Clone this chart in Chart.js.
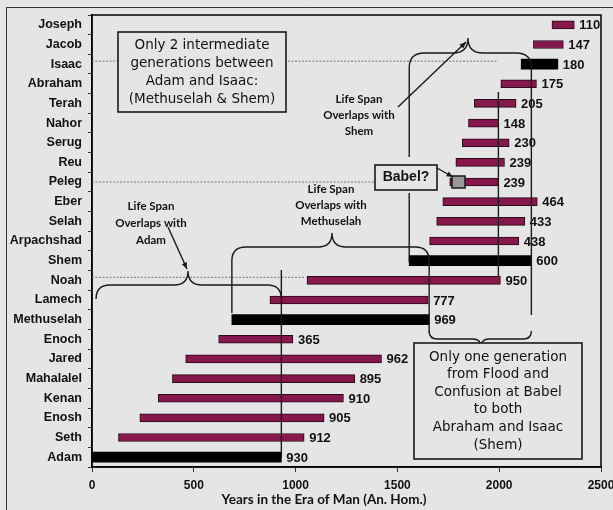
<!DOCTYPE html>
<html>
<head>
<meta charset="utf-8">
<script src="https://cdn.jsdelivr.net/npm/chart.js@4.4.1/dist/chart.umd.min.js"></script>
<style>
  html, body { margin: 0; padding: 0; background: #e5e5e5; }
  #wrap { width: 613px; height: 510px; }
</style>
</head>
<body>
<div id="wrap"><canvas id="myChart" width="613" height="510"></canvas></div>
<script>
// patriarchs, oldest first (drawn bottom to top)
const names = ['Adam', 'Seth', 'Enosh', 'Kenan', 'Mahalalel', 'Jared', 'Enoch', 'Methuselah', 'Lamech', 'Noah',
  'Shem', 'Arpachshad', 'Selah', 'Eber', 'Peleg', 'Reu', 'Serug', 'Nahor', 'Terah', 'Abraham', 'Isaac', 'Jacob', 'Joseph'];
// year of birth (An. Hom.)
const born = [0, 130, 235, 325, 395, 460, 622, 687, 874, 1056,
  1558, 1658, 1693, 1723, 1757, 1787, 1819, 1849, 1878, 2008, 2108, 2168, 2259];
// life span in years (also the bar labels)
const lifeSpan = [930, 912, 905, 910, 895, 962, 365, 969, 777, 950,
  600, 438, 433, 464, 239, 239, 230, 148, 205, 175, 180, 147, 110];
// the black bars
const keyPeople = ['Adam', 'Methuselah', 'Shem', 'Isaac'];
const xTicks = [0, 500, 1000, 1500, 2000, 2500];
const xTitle = 'Years in the Era of Man (An. Hom.)';

const BG = '#e5e5e5';
const MAROON = '#86184d';

const spanData = names.map((n, i) => keyPeople.includes(n) ? null : [born[i], born[i] + lifeSpan[i]]);
const keyData = names.map((n, i) => keyPeople.includes(n) ? [born[i], born[i] + lifeSpan[i]] : null);

// light grey page with a thin frame on the left and top
const backdrop = {
  id: 'backdrop',
  beforeDraw(chart) {
    const ctx = chart.ctx;
    ctx.save();
    ctx.fillStyle = BG;
    ctx.fillRect(0, 0, chart.width, chart.height);
    ctx.strokeStyle = '#333';
    ctx.lineWidth = 1;
    ctx.beginPath();
    ctx.moveTo(6.5, chart.height);
    ctx.lineTo(6.5, 7.5);
    ctx.lineTo(chart.width, 7.5);
    ctx.stroke();
    ctx.restore();
  }
};

// life span numbers at the end of each bar
const spanLabels = {
  id: 'spanLabels',
  afterDatasetsDraw(chart) {
    const ctx = chart.ctx, xs = chart.scales.x, ys = chart.scales.y;
    ctx.save();
    ctx.font = 'bold 13px "Liberation Sans", Arial, sans-serif';
    ctx.fillStyle = '#111';
    ctx.textBaseline = 'middle';
    ctx.textAlign = 'left';
    names.forEach((n, i) => {
      const x = xs.getPixelForValue(born[i] + lifeSpan[i]) + 5;
      ctx.fillText(String(lifeSpan[i]), x, ys.getPixelForValue(i) + 1);
    });
    ctx.restore();
  }
};

function brace(ctx, x1, x2, y, xm, tipY) {
  const d = Math.sign(y - tipY);
  const r = Math.abs(y - tipY);
  ctx.beginPath();
  ctx.moveTo(x1, y + d * r);
  ctx.quadraticCurveTo(x1, y, x1 + r, y);
  ctx.lineTo(xm - r, y);
  ctx.quadraticCurveTo(xm, y, xm, tipY);
  ctx.quadraticCurveTo(xm, y, xm + r, y);
  ctx.lineTo(x2 - r, y);
  ctx.quadraticCurveTo(x2, y, x2, y + d * r);
  ctx.stroke();
}

function arrow(ctx, x1, y1, x2, y2) {
  ctx.beginPath();
  ctx.moveTo(x1, y1);
  ctx.lineTo(x2, y2);
  ctx.stroke();
  const a = Math.atan2(y2 - y1, x2 - x1);
  ctx.beginPath();
  ctx.moveTo(x2, y2);
  ctx.lineTo(x2 - 7 * Math.cos(a - 0.4), y2 - 7 * Math.sin(a - 0.4));
  ctx.lineTo(x2 - 7 * Math.cos(a + 0.4), y2 - 7 * Math.sin(a + 0.4));
  ctx.closePath();
  ctx.fill();
}

function vline(ctx, x, y1, y2) {
  ctx.beginPath();
  ctx.moveTo(x, y1);
  ctx.lineTo(x, y2);
  ctx.stroke();
}

function textBox(ctx, x, y, w, h, lines, font, lineH) {
  ctx.fillStyle = BG;
  ctx.fillRect(x, y, w, h);
  ctx.lineWidth = 1.6;
  ctx.strokeRect(x, y, w, h);
  ctx.fillStyle = '#111';
  ctx.font = font;
  ctx.textAlign = 'center';
  ctx.textBaseline = 'middle';
  const top = y + h / 2 - (lines.length - 1) * lineH / 2;
  lines.forEach((t, k) => ctx.fillText(t, x + w / 2, top + k * lineH));
}

function textLines(ctx, cx, cy, lines, font, lineH) {
  ctx.fillStyle = '#111';
  ctx.font = font;
  ctx.textAlign = 'center';
  ctx.textBaseline = 'middle';
  lines.forEach((t, k) => ctx.fillText(t, cx, cy + k * lineH));
}

// braces, guide lines and notes
const notes = {
  id: 'notes',
  afterDraw(chart) {
    const ctx = chart.ctx, xs = chart.scales.x, ys = chart.scales.y, ca = chart.chartArea;
    const X = yr => xs.getPixelForValue(yr);
    const Y = n => ys.getPixelForValue(names.indexOf(n));
    ctx.save();

    // plot frame
    ctx.strokeStyle = '#000';
    ctx.lineWidth = 1.5;
    ctx.strokeRect(ca.left, ca.top, ca.right - ca.left, ca.bottom - ca.top);

    // dotted guides
    ctx.strokeStyle = '#777';
    ctx.lineWidth = 1;
    ctx.setLineDash([2, 1.5]);
    ctx.beginPath();
    ctx.moveTo(ca.left, Y('Isaac') - 3); ctx.lineTo(497, Y('Isaac') - 3);
    ctx.moveTo(ca.left, Y('Peleg')); ctx.lineTo(376, Y('Peleg'));
    ctx.moveTo(ca.left, Y('Noah') - 3); ctx.lineTo(X(born[names.indexOf('Noah')]) - 3, Y('Noah') - 3);
    ctx.stroke();
    ctx.setLineDash([]);

    ctx.strokeStyle = '#1a1a1a';
    ctx.fillStyle = '#1a1a1a';
    ctx.lineWidth = 1.4;

    // Adam
    brace(ctx, X(20), X(930), 285, 188, 271);
    vline(ctx, X(930), 270, Y('Adam'));
    // Methuselah
    brace(ctx, X(687), X(1656), 247, 332, 233);
    vline(ctx, X(687), 261, 313);
    vline(ctx, X(1656), 261, 333);
    // Shem
    brace(ctx, X(1558), X(2158), 53, 468, 38);
    vline(ctx, X(1558), 68, 157);
    vline(ctx, X(1558), 193, 262);
    vline(ctx, X(2158), 68, 315);
    brace(ctx, X(1656), X(2158), 339, 481, 347);
    vline(ctx, X(1996), 92, 276);

    // arrows
    arrow(ctx, 168, 227, 187, 269);
    arrow(ctx, 398, 107, 466, 42);
    arrow(ctx, 437, 168, 453, 177);

    // Babel
    ctx.fillStyle = '#999';
    ctx.fillRect(452, 176, 13, 12);
    ctx.lineWidth = 1.5;
    ctx.strokeRect(452, 176, 13, 12);
    textBox(ctx, 375, 165, 62, 25, ['Babel?'], 'bold 14px "Liberation Sans", Arial, sans-serif', 16);

    // notes
    const comic = '13.5px "DejaVu Sans", sans-serif';
    textBox(ctx, 118, 32, 168, 80,
      ['Only 2 intermediate', 'generations between', 'Adam and Isaac:', '(Methuselah & Shem)'], comic, 18);
    textBox(ctx, 414, 343, 168, 116,
      ['Only one generation', 'from Flood and', 'Confusion at Babel', 'to both', 'Abraham and Isaac', '(Shem)'], comic, 17.6);

    const label = 'bold 11.5px Lato, "Open Sans", sans-serif';
    textLines(ctx, 151, 206, ['Life Span', 'Overlaps with', 'Adam'], label, 17);
    textLines(ctx, 331, 189, ['Life Span', 'Overlaps with', 'Methuselah'], label, 16);
    textLines(ctx, 359, 99, ['Life Span', 'Overlaps with', 'Shem'], label, 16);

    // axis title
    ctx.font = 'bold 13.5px Lato, "Open Sans", sans-serif';
    ctx.fillStyle = '#111';
    ctx.textAlign = 'center';
    ctx.textBaseline = 'middle';
    ctx.fillText(xTitle, 324, 500);
    ctx.restore();
  }
};

new Chart(document.getElementById('myChart'), {
  type: 'bar',
  data: {
    labels: names,
    datasets: [{
      label: 'Life span',
      data: spanData,
      backgroundColor: MAROON,
      borderColor: '#2a0716',
      borderWidth: 1,
      borderSkipped: false,
      barThickness: 8,
      grouped: false
    }, {
      label: 'Key life span',
      data: keyData,
      backgroundColor: '#000',
      borderColor: '#000',
      borderWidth: 0,
      barThickness: 10,
      grouped: false
    }]
  },
  options: {
    indexAxis: 'y',
    responsive: false,
    animation: false,
    layout: { padding: { top: 15, right: 12, left: 0, bottom: 0 } },
    plugins: { legend: { display: false }, tooltip: { enabled: false } },
    scales: {
      x: {
        type: 'linear',
        min: 0,
        max: 2500,
        afterBuildTicks: s => { s.ticks = xTicks.map(v => ({ value: v })); },
        ticks: {
          color: '#111', font: { family: '"Liberation Sans", Arial', weight: 'bold', size: 12 }, padding: 6,
          callback: v => String(v)
        },
        grid: { drawOnChartArea: false, tickLength: 5, color: '#333' },
        border: { color: '#000', width: 1.5 },
        afterFit: s => { s.height = 43; s.paddingRight = 0; s.paddingLeft = 0; }
      },
      y: {
        reverse: true,
        ticks: { color: '#111', font: { family: '"Liberation Sans", Arial', weight: 'bold', size: 12.5 }, padding: 6 },
        grid: { drawOnChartArea: false, offset: true, tickLength: 4, color: '#333' },
        border: { color: '#000', width: 1.5 },
        afterFit: s => { s.width = 92; s.paddingTop = 0; s.paddingBottom = 0; }
      }
    }
  },
  plugins: [backdrop, spanLabels, notes]
});
</script>
</body>
</html>
